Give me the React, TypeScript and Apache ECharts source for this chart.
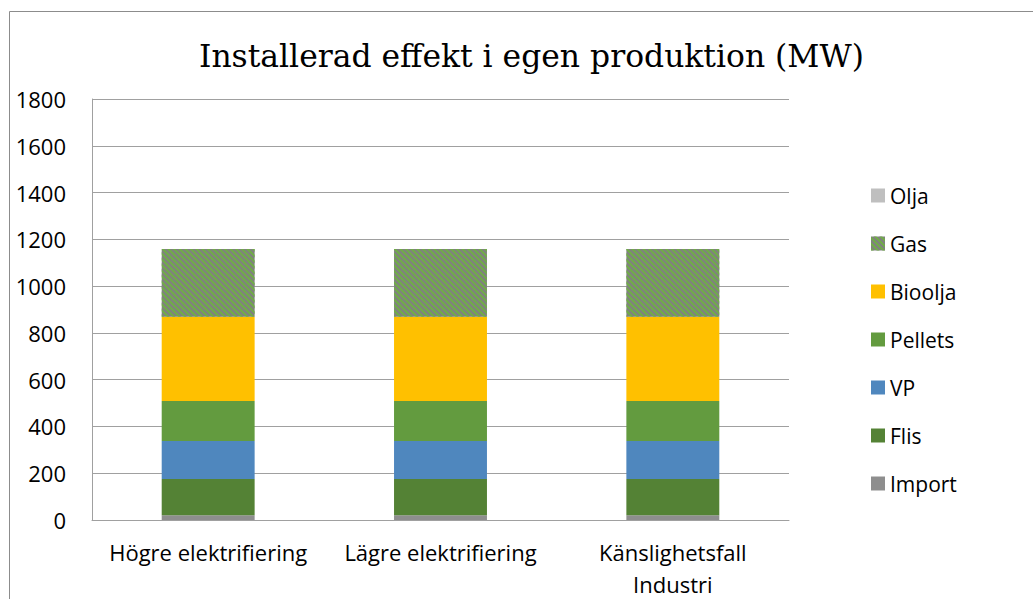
import React, { useEffect, useRef } from "react";
import * as echarts from "echarts";

const categories = ["Högre elektrifiering", "Lägre elektrifiering", "Känslighetsfall\nIndustri"];
const seriesNames = ["Import", "Flis", "VP", "Pellets", "Bioolja", "Gas", "Olja"];
const importVals = [20, 20, 20];
const flisVals = [155, 155, 155];
const vpVals = [163, 163, 163];
const pelletsVals = [171, 171, 171];
const biooljaVals = [360, 360, 360];
const gasVals = [290, 290, 290];
const oljaVals = [0, 0, 0];
const yTicks = { min: 0, max: 1800, interval: 200 };

const colors: Record<string, string> = {
  Import: "#8E8E8E",
  Flis: "#548235",
  VP: "#4F87BE",
  Pellets: "#639B3F",
  Bioolja: "#FFC000",
  Gas: "#808080",
  Olja: "#BFBFBF",
};

export default function App() {
  const ref = useRef<HTMLDivElement>(null);
  useEffect(() => {
    if (!ref.current) return;
    const chart = echarts.init(ref.current, null, { renderer: "svg" });
    const valuesList = [importVals, flisVals, vpVals, pelletsVals, biooljaVals, gasVals, oljaVals];
    const font = "'Open Sans', sans-serif";
    chart.setOption({
      animation: false,
      backgroundColor: "#ffffff",
      title: {
        text: "Installerad effekt i egen produktion (MW)",
        left: 194,
        top: 35,
        textStyle: {
          fontFamily: "'DejaVu Serif', serif",
          fontSize: 31.4,
          fontWeight: "normal",
          color: "#000000",
        },
      },
      graphic: [
        {
          type: "rect",
          shape: { x: 9.5, y: 11.5, width: 1100, height: 700 },
          style: { fill: "none", stroke: "#8C8C8C", lineWidth: 1 },
          silent: true,
        },
      ],
      legend: {
        orient: "vertical",
        left: 866,
        top: 180,
        icon: "rect",
        itemWidth: 14,
        itemHeight: 14,
        itemGap: 27,
        data: [...seriesNames].reverse(),
        textStyle: { fontFamily: font, fontSize: 21, color: "#000000" },
      },
      grid: { left: 92, right: 244, top: 99, bottom: 79, outerBoundsMode: "none" },
      xAxis: {
        type: "category",
        data: categories,
        axisLine: { show: true, lineStyle: { color: "#A0A0A0", width: 1 } },
        axisTick: { show: false },
        axisLabel: {
          fontFamily: font,
          fontSize: 22,
          color: "#000000",
          margin: 16,
          lineHeight: 32,
          interval: 0,
        },
      },
      yAxis: {
        type: "value",
        min: yTicks.min,
        max: yTicks.max,
        interval: yTicks.interval,
        axisLine: { show: true, lineStyle: { color: "#A0A0A0", width: 1 } },
        axisTick: { show: false },
        splitLine: { lineStyle: { color: "#A0A0A0", width: 1 } },
        axisLabel: {
          fontFamily: font,
          fontSize: 22,
          color: "#000000",
          margin: 26,
          formatter: (v: number) => String(v),
        },
      },
      series: seriesNames.map((name, i) => ({
        name,
        type: "bar",
        stack: "total",
        barWidth: "40%",
        data: valuesList[i],
        itemStyle: {
          color: colors[name],
          decal:
            name === "Gas"
              ? {
                  symbol: "rect",
                  symbolSize: 1,
                  color: "#70AD47",
                  dashArrayX: [[1, 0]],
                  dashArrayY: [2, 2],
                  rotation: Math.PI / 4,
                }
              : "none",
        },
        emphasis: { disabled: true },
      })),
    });
    return () => chart.dispose();
  }, []);
  return (
    <div
      ref={ref}
      style={{ position: "absolute", left: 0, top: 0, width: 1033, height: 599 }}
    />
  );
}
